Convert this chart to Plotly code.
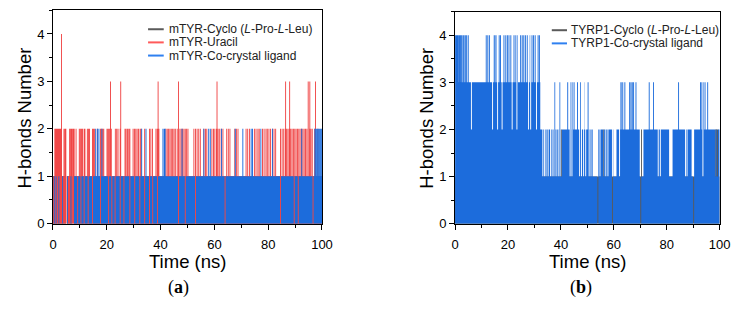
import numpy as np
import plotly.graph_objects as go

# ---------------- data ----------------
# time axis (ns)
T_MAX = 100.0
DT = 0.05          # sampling step of the reconstructed trajectories (ns)
W = 0.35           # duration of a single-frame event (ns)

x_ticks = [0, 20, 40, 60, 80, 100]
y_ticks = [0, 1, 2, 3, 4]

# ---- panel (a): mTYR ----
# mTYR-Cyclo (L-Pro-L-Leu): mostly hidden below the other two
cyc_a_base = 1
cyc_a_runs = []
cyc_a_events = {0: [4.8, 7.3]}

# mTYR-Uracil
ura_a_base = 1
ura_a_runs = []
ura_a_events = {
    0: [4.8, 7.3],
    2: [0.5, 0.8, 1.1, 1.4, 1.6, 1.9, 2.2, 2.5, 2.8, 3.9, 4.3, 4.6, 6.0, 6.3, 6.7, 7.0, 7.4, 7.7,
        8.4, 9.6, 10.0, 10.4, 10.8, 11.4, 11.7, 12.6, 13.0, 13.4, 14.5, 14.9, 15.3, 16.3,
        17.5, 17.9, 18.3, 18.7, 19.9, 20.3, 20.7, 21.1, 21.5, 23.0, 23.5, 24.0, 24.8,
        26.6, 27.0, 27.5, 28.0, 28.4, 29.6, 30.1, 30.6, 31.1, 31.6, 32.2, 32.6, 33.9,
        35.7, 36.2, 36.8, 38.1, 38.6, 39.2, 41.8, 42.3, 42.8, 43.3, 43.8, 44.3, 44.8, 45.3,
        46.0, 46.5, 47.0, 47.5, 48.0, 48.5, 49.0, 49.5, 50.0, 52.2, 52.8, 53.4, 54.0, 54.6,
        55.9, 56.5, 57.0, 58.9, 59.5, 60.0, 60.6, 61.2, 61.8, 62.4, 63.0, 64.4, 65.0, 65.6,
        67.4, 68.0, 68.6, 71.6, 72.2, 72.9, 74.7, 75.3, 76.0, 76.5, 77.7, 78.3, 79.0, 79.5,
        80.1, 80.7, 81.4, 82.0, 82.6, 84.4, 85.0, 85.6, 86.2, 86.7, 87.2, 87.7, 88.2, 88.7,
        89.2, 89.7, 90.2, 90.7, 91.2, 91.7, 92.2, 92.7, 93.2, 93.7, 94.2, 94.7, 95.2, 95.7,
        96.2, 97.1, 98.3],
    3: [21.2, 25.0, 38.9, 46.5, 60.8, 86.3, 87.8, 94.7, 95.3, 97.4],
    4: [3.0],
}

# mTYR-Co-crystal ligand
cox_a_base = 1
cox_a_runs = [(0.0, 7.8, 0)]
cox_a_events = {
    1: [0.3, 1.0, 2.0, 3.4, 5.2, 6.5],
    0: [9.0, 10.2, 11.4, 12.9, 14.5, 17.5, 20.5, 21.7, 22.9, 24.8, 26.2, 28.4, 30.2, 32.1,
        33.9, 35.7, 36.9, 38.7, 46.5, 49.0, 52.8, 63.8, 84.4, 89.5, 91.0, 96.5],
    2: [15.7, 16.4, 16.9, 18.0, 32.8, 34.4, 40.7, 41.2, 41.5, 47.8, 55.9, 57.7, 58.3, 62.5,
        67.6, 70.4, 73.5, 74.0, 77.1, 81.4, 92.3, 97.2, 97.6, 98.0, 98.4, 98.8, 99.2, 99.6],
}

# ---- panel (b): TYRP1 ----
# TYRP1-Cyclo (L-Pro-L-Leu)
cyc_b_base = 1
cyc_b_runs = [(98.3, 99.5, 2)]
cyc_b_events = {2: [40.0, 56.0, 70.3]}

# TYRP1-Co-crystal ligand
cox_b_base = 2
cox_b_runs = [(0.0, 32.2, 3), (0.0, 0.6, 4),
              (52.0, 54.0, 1), (59.8, 61.0, 1), (69.8, 71.2, 1), (80.9, 82.2, 1), (89.4, 90.2, 1)]
cox_b_events = {
    4: [0.2, 0.5, 0.8, 1.2, 1.5, 1.9, 2.3, 2.8, 3.2, 3.7, 4.2, 4.8, 11.6, 12.2, 12.8,
        14.1, 14.8, 15.3, 16.5, 17.0, 17.6, 18.3, 19.0, 19.6, 20.2, 20.9, 22.1, 22.8, 23.4,
        24.6, 25.2, 25.8, 26.4, 27.1, 27.7, 28.3, 28.9, 29.5, 30.1, 30.6, 31.2, 31.7],
    2: [6.0, 14.0, 15.9, 17.6, 21.4, 23.2, 27.6, 28.4, 30.6],
    3: [37.5, 39.3, 39.9, 42.4, 43.6, 44.2, 44.8, 46.1, 47.3, 48.5, 50.1, 62.1, 62.6, 63.2,
        64.0, 65.8, 66.3, 66.8, 67.3, 68.2, 73.2, 74.8, 84.3, 92.6, 93.1, 93.7, 94.3, 95.3,
        98.4],
    1: [33.0, 33.6, 34.2, 35.0, 35.9, 36.5, 37.2, 38.0, 38.8, 39.5, 40.0, 43.3, 44.0, 46.9,
        47.6, 48.4, 49.2, 50.5, 51.2, 54.6, 56.0, 56.8, 57.6, 62.0, 76.6, 77.4, 86.9, 87.5,
        93.5, 98.4, 99.0],
    0: [53.8, 59.3, 70.0, 90.0],
}

# ---------------- build trajectories ----------------
t = np.round(np.arange(0, T_MAX + DT / 2, DT), 4)


def build(base, runs, events):
    y = np.full(t.size, float(base))
    for t0, t1, v in runs:
        y[(t >= t0 - 1e-9) & (t < t1 - 1e-9)] = v
    for level, times in events.items():
        for s in times:
            y[(t >= s - 1e-9) & (t < s + W - 1e-9)] = level
    return y


COL_GRAY = "#5a5a5a"
COL_RED = "#f04646"
COL_BLUE = "#1c6cdc"
FONT = "Liberation Sans, Arial, sans-serif"

fig = go.Figure()


def add(name, yv, color, xa, ya):
    fig.add_trace(go.Scatter(
        x=t, y=yv, name=name, mode="lines",
        line=dict(width=0, shape="hv", color=color),
        fill="tozeroy", fillcolor=color, showlegend=False,
        xaxis=xa, yaxis=ya, hoverinfo="skip"))


add("mTYR-Cyclo (L-Pro-L-Leu)", build(cyc_a_base, cyc_a_runs, cyc_a_events), COL_GRAY, "x", "y")
add("mTYR-Uracil", build(ura_a_base, ura_a_runs, ura_a_events), COL_RED, "x", "y")
add("mTYR-Co-crystal ligand", build(cox_a_base, cox_a_runs, cox_a_events), COL_BLUE, "x", "y")
add("TYRP1-Cyclo (L-Pro-L-Leu)", build(cyc_b_base, cyc_b_runs, cyc_b_events), COL_GRAY, "x2", "y2")
add("TYRP1-Co-crystal ligand", build(cox_b_base, cox_b_runs, cox_b_events), COL_BLUE, "x2", "y2")

W_PX, H_PX = 748, 316


def px(xp):
    return xp / W_PX


def py(yp):
    return 1 - yp / H_PX


axis_common = dict(
    showline=True, linecolor="black", linewidth=1, mirror=True,
    ticks="outside", ticklen=5, tickwidth=1, tickcolor="black",
    showgrid=False, zeroline=False,
    tickfont=dict(family=FONT, size=13, color="black"),
)

fig.update_layout(
    width=W_PX, height=H_PX,
    margin=dict(l=0, r=0, t=0, b=0),
    paper_bgcolor="white", plot_bgcolor="white",
    xaxis=dict(domain=[px(50), px(324.5)], range=[0, T_MAX], tickvals=x_ticks,
               minor=dict(dtick=10, ticks="outside", ticklen=3, tickcolor="black"),
               anchor="y", ticklabelstandoff=4, **axis_common),
    yaxis=dict(domain=[py(229.5), py(10.5)], range=[0, 4.5], tickvals=y_ticks,
               minor=dict(dtick=0.5, ticks="outside", ticklen=3, tickcolor="black"),
               anchor="x", **axis_common),
    xaxis2=dict(domain=[px(460.3), px(730.3)], range=[0, T_MAX], tickvals=x_ticks,
                minor=dict(dtick=10, ticks="outside", ticklen=3, tickcolor="black"),
                anchor="y2", ticklabelstandoff=4, **axis_common),
    yaxis2=dict(domain=[py(229.5), py(12)], range=[0, 4.5], tickvals=y_ticks,
                minor=dict(dtick=0.5, ticks="outside", ticklen=3, tickcolor="black"),
                anchor="x2", **axis_common),
)

ann = []
shapes = []
# axis titles
for cx in (21, 431.5):
    ann.append(dict(text="H-bonds Number", x=px(cx), y=py(121), xref="paper", yref="paper",
                    textangle=-90, showarrow=False, font=dict(family=FONT, size=18.5, color="black"),
                    xanchor="center", yanchor="middle"))
for cx in (187, 595):
    ann.append(dict(text="Time (ns)", x=px(cx), y=py(256), xref="paper", yref="paper",
                    showarrow=False, font=dict(family=FONT, size=18.5, color="black"),
                    xanchor="center", yanchor="top", borderpad=0))
# panel labels
for lab, cx in (("a", 178.5), ("b", 589)):
    ann.append(dict(text="(<b>%s</b>)" % lab, x=px(cx), y=py(295), xref="paper", yref="paper",
                    showarrow=False, font=dict(family="Liberation Serif, Times New Roman, serif",
                                               size=18, color="black"),
                    xanchor="center", yanchor="middle"))

# legends
leg_a = [("mTYR-Cyclo (<i>L</i>-Pro-<i>L</i>-Leu)", COL_GRAY, 30),
         ("mTYR-Uracil", "#ff5a5a", 43.5),
         ("mTYR-Co-crystal ligand", "#2f80f0", 57)]
leg_b = [("TYRP1-Cyclo (<i>L</i>-Pro-<i>L</i>-Leu)", COL_GRAY, 31),
         ("TYRP1-Co-crystal ligand", "#2f80f0", 44.5)]
for items, x0, x1, xt in ((leg_a, 147, 163, 166), (leg_b, 559, 574.5, 577)):
    for text, col, yy in items:
        shapes.append(dict(type="line", xref="paper", yref="paper", x0=px(x0), x1=px(x1),
                           y0=py(yy), y1=py(yy), line=dict(color=col, width=2)))
        ann.append(dict(text=text, x=px(xt), y=py(yy), xref="paper", yref="paper",
                        showarrow=False, font=dict(family=FONT, size=12, color="#222"),
                        xanchor="left", yanchor="middle"))

fig.update_layout(annotations=ann, shapes=shapes)
fig.write_html("out.html")
